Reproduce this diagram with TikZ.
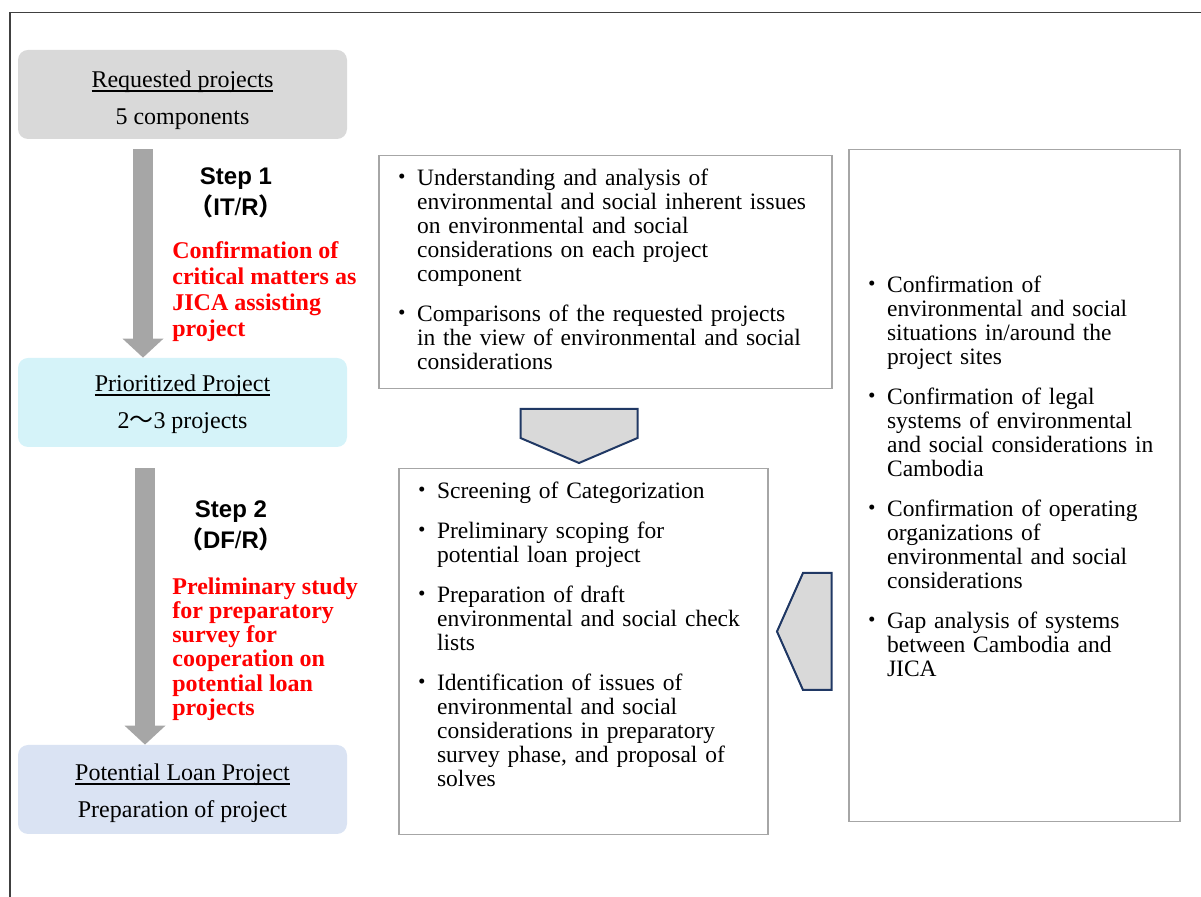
\documentclass[tikz,border=0pt]{standalone}
\usepackage{fontspec}
\setmainfont{Liberation Serif}
\setsansfont{Liberation Sans}
\newfontfamily\cjk{Noto Sans CJK JP}
\usetikzlibrary{arrows.meta}

\definecolor{reqgray}{HTML}{D9D9D9}
\definecolor{priocyan}{HTML}{D5F3F9}
\definecolor{loanblue}{HTML}{DAE3F3}
\definecolor{flowgray}{HTML}{A6A6A6}
\definecolor{framegray}{HTML}{A6A6A6}
\definecolor{navy}{HTML}{203864}

\newlength\bulw
\setlength\bulw{13.5pt}
\newsavebox\headbox
\newcommand\bpoint{\par\noindent\hangindent=\bulw\hangafter=1\makebox[\bulw][l]{\cjk ・}}
\newcommand\stagehead[2][14.5pt]{\rule{0pt}{#1}\sbox\headbox{#2}%
  \rlap{\rule[-2pt]{\wd\headbox}{0.85pt}}\usebox\headbox}

\begin{document}
\begin{tikzpicture}[x=0.5pt,y=-0.5pt,
  stage/.style={rounded corners=5pt,minimum width=164.5pt,minimum height=44.5pt,
    inner sep=0pt,align=center,font=\fontsize{12}{12}\selectfont},
  stepflow/.style={flowgray,line width=10pt,
    -{Triangle[width=20.5pt,length=9.5pt,line width=0pt]}},
  steplabel/.style={align=center,font=\sffamily\bfseries\fontsize{12}{15.5}\selectfont},
  stepnote/.style={red,anchor=west,inner sep=0pt,align=left,
    font=\bfseries\fontsize{12}{13}\selectfont},
  panel/.style={draw=framegray,line width=0.75pt,anchor=north west,inner sep=0pt},
  notes/.style={anchor=north west,inner sep=0pt,align=left,
    font=\fontsize{11.75}{12}\selectfont,execute at begin node={\setlength{\parskip}{8pt}}},
  chevron/.style={fill=reqgray,draw=navy,line width=1pt}]

\useasboundingbox (0,0) rectangle (1201,897);
\draw[black!75,line width=0.6pt] (10,897) -- (10,12.5) -- (1201,12.5);

% project stages
\node[stage,fill=reqgray] (req) at (182.5,94.5)
  {\stagehead{Requested projects}\\[6.5pt]5 components};
\node[stage,fill=priocyan] (prio) at (182.5,402.5)
  {\stagehead[10.5pt]{Prioritized Project}\\[6.5pt]2{\cjk 〜}3 projects};
\node[stage,fill=loanblue] (loan) at (182.5,789.5)
  {\stagehead[12.5pt]{Potential Loan Project}\\[6.5pt]Preparation of project};

\draw[stepflow] ([xshift=-19.75pt,yshift=-5pt]req.south) -- ([xshift=-19.75pt]prio.north);
\draw[stepflow] ([xshift=-18.75pt,yshift=-10.5pt]prio.south) -- ([xshift=-18.75pt]loan.north);

\node[steplabel] (step1) at (236,193) {Step 1\\{\cjk （}IT{\mdseries /}R{\cjk ）}};
\node[steplabel] (step2) at (231,526) {Step 2\\{\cjk （}DF{\mdseries /}R{\cjk ）}};

\node[stepnote] (note1) at (172,292) {Confirmation of\\critical matters as\\JICA assisting\\project};
\node[stepnote,font=\bfseries\fontsize{12}{12.1}\selectfont] (note2) at (172,649)
  {Preliminary study\\for preparatory\\survey for\\cooperation on\\potential loan\\projects};

% survey items
\node[panel,minimum width=226.5pt,minimum height=116.5pt] (itr) at (378,155) {};
\node[panel,minimum width=184.5pt,minimum height=183pt] (dfr) at (398,468) {};
\node[panel,minimum width=165.5pt,minimum height=336pt] (base) at (848,149) {};

\node[notes,text width=220pt] (itrtext) at (389.7,145) {%
\bpoint Understanding and analysis of\newline environmental and social inherent issues\newline
on environmental and social\newline considerations on each project\newline component
\bpoint Comparisons of the requested projects\newline in the view of environmental and social\newline
considerations\par};

\node[notes,text width=175pt] (dfrtext) at (409.7,458) {%
\bpoint Screening of Categorization
\bpoint Preliminary scoping for\newline potential loan project
\bpoint Preparation of draft\newline environmental and social check\newline lists
\bpoint Identification of issues of\newline environmental and social\newline
considerations in preparatory\newline survey phase, and proposal of\newline solves\par};

\node[notes,text width=158pt] (basetext) at (859.7,252) {%
\bpoint Confirmation of\newline environmental and social\newline situations in/around the\newline project sites
\bpoint Confirmation of legal\newline systems of environmental\newline and social considerations in\newline Cambodia
\bpoint Confirmation of operating\newline organizations of\newline environmental and social\newline considerations
\bpoint Gap analysis of systems\newline between Cambodia and\newline JICA\par};

\draw[chevron] (520.5,409) -- (637.5,409) -- (637.5,438) -- (579,463) -- (520.5,438) -- cycle;
\draw[chevron] (831.5,573) -- (831.5,690) -- (803,690) -- (777,631.5) -- (803,573) -- cycle;

\end{tikzpicture}
\end{document}
